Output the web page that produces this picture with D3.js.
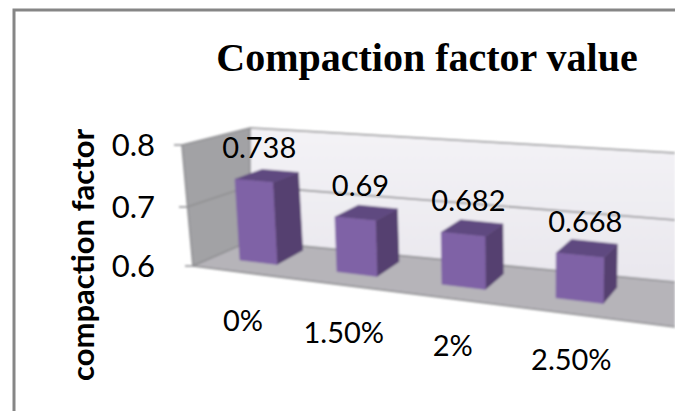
<!DOCTYPE html>
<html>
<head>
<meta charset="utf-8">
<script src="https://cdn.jsdelivr.net/npm/d3@7/dist/d3.min.js"></script>
<style>
html,body{margin:0;padding:0;background:#fff;overflow:hidden}
svg{display:block}
text{fill:#000}
</style>
</head>
<body>
<svg id="chart" width="675" height="411"></svg>
<script>
const titleText = "Compaction factor value";
const axisTitle = "compaction factor";
const categories = ["0%", "1.50%", "2%", "2.50%"];
const values = [0.738, 0.69, 0.682, 0.668];
const valueLabels = ["0.738", "0.69", "0.682", "0.668"];
const ticks = [0.6, 0.7, 0.8];
const tickLabels = ["0.6", "0.7", "0.8"];

const svg = d3.select("#chart");
const labelFont = "Lato, Carlito, sans-serif";

// Vertical scales for the three wall edges that carry the value axis
const yLeftFront = d3.scaleLinear().domain(ticks).range([266, 207, 145]);
const yBackNear = d3.scaleLinear().domain(ticks).range([241, 186, 128]);
const yBackFar = d3.scaleLinear().domain(ticks).range([282, 220, 153]);
const xLeftFront = d3.scaleLinear().domain(ticks).range([193, 187, 182]);
const xCorner = 250, xFar = 675;

// Perspective projection: u along the category axis, d into the depth, v is the value
const barHeight = d3.scaleLinear().domain([0.6, 0.8]).range([0, 117]);
function project(u, d, v) {
  const w = 1 - 0.038 * u;
  const rise = v - 0.6;
  return [
    (240 + 84.2 * u + d * (27 - 4.5 * u)) / w - rise * (36 - 13 * u),
    (260 + 1.3 * u - d * (14 - 30 * rise)) / w - barHeight(v) / w
  ];
}
const barWidth = 0.391;

const poly = pts => "M" + pts.map(p => p.join(",")).join("L") + "Z";

// Soft edge for the 3D plot graphics
const defs = svg.append("defs");
defs.append("filter").attr("id", "soft")
  .attr("x", "-5%").attr("y", "-5%").attr("width", "110%").attr("height", "110%")
  .append("feGaussianBlur").attr("stdDeviation", 0.8);
const backGrad = defs.append("linearGradient").attr("id", "backWall")
  .attr("x1", 0).attr("y1", 0).attr("x2", 0).attr("y2", 1);
backGrad.append("stop").attr("offset", 0).attr("stop-color", "#f4f3f6");
backGrad.append("stop").attr("offset", 1).attr("stop-color", "#e9e7ee");

// Chart frame, clipped by the page on the right and bottom
svg.append("path")
  .attr("d", "M14,411V10H675")
  .attr("fill", "none").attr("stroke", "#868686").attr("stroke-width", 3);

const plot = svg.append("g").attr("filter", "url(#soft)");
const lo = ticks[0], hi = ticks[ticks.length - 1];

// Floor, back wall and side wall
plot.append("path")
  .attr("d", poly([[xLeftFront(lo), yLeftFront(lo)], [xCorner, yBackNear(lo)], [xFar, yBackFar(lo)], [xFar, 327]]))
  .attr("fill", "#b6b4b9");
plot.append("path")
  .attr("d", poly([[xCorner, yBackNear(hi)], [xFar, yBackFar(hi)], [xFar, yBackFar(lo)], [xCorner, yBackNear(lo)]]))
  .attr("fill", "url(#backWall)");
plot.append("path")
  .attr("d", poly([[xLeftFront(hi), yLeftFront(hi)], [xCorner, yBackNear(hi)], [xCorner, yBackNear(lo)], [xLeftFront(lo), yLeftFront(lo)]]))
  .attr("fill", "#a2a2a5");

// Gridlines run along both walls, with tick stubs beside the axis
const grid = plot.append("g").attr("fill", "none").attr("stroke", "#8f8f92").attr("stroke-width", 1.6);
ticks.forEach(t => {
  grid.append("path").attr("d", d3.line()([
    [xLeftFront(t) - 8, yLeftFront(t)],
    [xLeftFront(t), yLeftFront(t)],
    [xCorner, yBackNear(t)],
    [xFar, yBackFar(t)]
  ]));
});
grid.append("path").attr("d", d3.line()([[xLeftFront(lo), yLeftFront(lo)], [xLeftFront(hi), yLeftFront(hi)]]));
grid.append("path").attr("d", d3.line()([[xCorner, yBackNear(lo)], [xCorner, yBackNear(hi)]]));
grid.append("path").attr("d", d3.line()([[xLeftFront(lo), yLeftFront(lo)], [xFar, 327]]));

// One box per category: side, top and front face
const bars = plot.selectAll("g.bar").data(values).join("g").attr("class", "bar");
bars.append("path").attr("fill", "#54406f").attr("stroke", "#54406f").attr("stroke-width", 0.6)
  .attr("d", (v, i) => poly([
    project(i + barWidth, 0, v), project(i + barWidth, 1, v),
    project(i + barWidth, 1, lo), project(i + barWidth, 0, lo)
  ]));
bars.append("path").attr("fill", "#5f4880").attr("stroke", "#5f4880").attr("stroke-width", 0.6)
  .attr("d", (v, i) => poly([
    project(i, 0, v), project(i, 1, v),
    project(i + barWidth, 1, v), project(i + barWidth, 0, v)
  ]));
bars.append("path").attr("fill", "#7f62a6").attr("stroke", "#7f62a6").attr("stroke-width", 0.6)
  .attr("d", (v, i) => poly([
    project(i, 0, v), project(i + barWidth, 0, v),
    project(i + barWidth, 0, lo), project(i, 0, lo)
  ]));

// Title
svg.append("text").text(titleText)
  .attr("x", 427).attr("y", 71).attr("text-anchor", "middle")
  .attr("font-family", "'Liberation Serif', serif")
  .attr("font-weight", 700).attr("font-size", 40);

// Value axis title and tick labels
svg.append("text").text(axisTitle)
  .attr("transform", "translate(94,255) rotate(-90)")
  .attr("text-anchor", "middle")
  .attr("font-family", labelFont).attr("font-weight", 700).attr("font-size", 31);

svg.selectAll("text.tick").data(ticks).join("text").attr("class", "tick")
  .text((t, i) => tickLabels[i])
  .attr("x", 155).attr("y", t => yLeftFront(t) + 11)
  .attr("text-anchor", "end")
  .attr("font-family", labelFont).attr("font-size", 31);

// Data labels above each box
svg.selectAll("text.value").data(values).join("text").attr("class", "value")
  .text((v, i) => valueLabels[i])
  .attr("x", (v, i) => project(i + 0.2, 0, v)[0] + 5)
  .attr("y", (v, i) => project(i + 0.2, 0, v)[1] - 23)
  .attr("text-anchor", "middle")
  .attr("font-family", labelFont).attr("font-size", 29);

// Category labels follow the slanted floor edge
svg.selectAll("text.cat").data(categories).join("text").attr("class", "cat")
  .text(c => c)
  .attr("x", (c, i) => project(i + 0.2, -0.6, lo)[0])
  .attr("y", (c, i) => project(i + 0.2, -0.6, lo)[1] + 60)
  .attr("text-anchor", "middle")
  .attr("font-family", labelFont).attr("font-size", 29);
</script>
</body>
</html>
